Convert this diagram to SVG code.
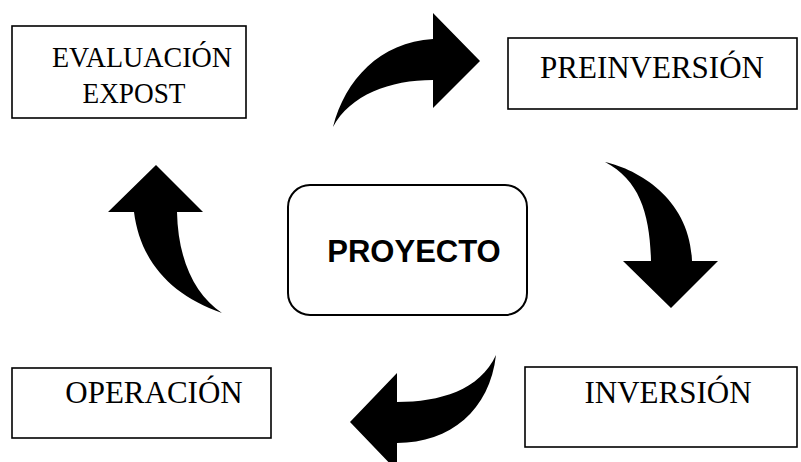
<svg xmlns="http://www.w3.org/2000/svg" width="801" height="462" viewBox="0 0 801 462">
<style>
.box{fill:#fff;stroke:#000;stroke-width:1.6}
.t{font-family:"Liberation Serif","Times New Roman",serif;fill:#000;text-anchor:middle}
.arr{fill:#000;stroke:none}
</style>
<rect width="801" height="462" fill="#fff"/>
<g id="connectors">
<path class="arr" d="M333,127 C345,80 380,42 433,39 L433,13 L480,61 L433,108 L433,80 C390,80 350,95 333,127 Z"/>
<path class="arr" d="M605,162 C640,170 690,200 692,261 L718,261 L671,308 L623,261 L651,261 C650,215 640,180 605,162 Z"/>
<path class="arr" d="M496,355 C480,390 440,402 397,402 L397,373 L350,422 L397,471 L397,443 C450,443 490,410 496,355 Z"/>
<path class="arr" d="M156,165 L203,212 L177,212 C178,260 195,295 222,313 C170,295 140,260 134,212 L108,212 Z"/>
</g>
<g id="evaluacion">
<rect class="box" x="12" y="26" width="234" height="92"/>
<text class="t" x="142" y="67" font-size="30" textLength="180" lengthAdjust="spacingAndGlyphs">EVALUACIÓN</text>
<text class="t" x="134" y="103" font-size="30" textLength="103" lengthAdjust="spacingAndGlyphs">EXPOST</text>
</g>
<g id="preinversion">
<rect class="box" x="508" y="38" width="289" height="71"/>
<text class="t" x="652" y="78" font-size="31">PREINVERSIÓN</text>
</g>
<g id="proyecto">
<rect class="box" x="288" y="185" width="239" height="130" rx="22" ry="22" style="stroke-width:2"/>
<text x="414" y="262" font-size="31" font-weight="bold" text-anchor="middle" font-family="'Liberation Sans',Arial,sans-serif">PROYECTO</text>
</g>
<g id="operacion">
<rect class="box" x="12" y="368" width="259" height="70"/>
<text class="t" x="154" y="403" font-size="31">OPERACIÓN</text>
</g>
<g id="inversion">
<rect class="box" x="525" y="367" width="272" height="80"/>
<text class="t" x="668" y="403" font-size="31">INVERSIÓN</text>
</g>
</svg>
